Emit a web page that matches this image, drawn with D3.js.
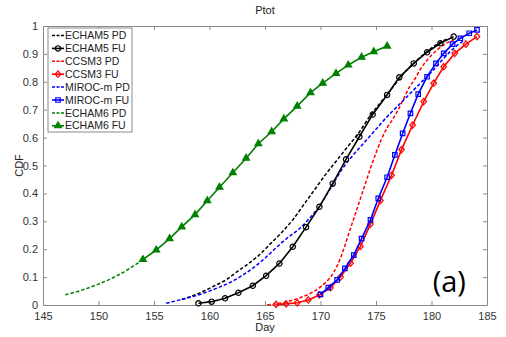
<!DOCTYPE html>
<html>
<head>
<meta charset="utf-8">
<script src="https://cdn.jsdelivr.net/npm/d3@7"></script>
<style>
  body { margin: 0; background: #fff; }
  text { font-family: "Liberation Sans", Arial, sans-serif; }
</style>
</head>
<body>
<div id="my_dataviz"></div>
<script>
// values (day, CDF)
var echam5PdDay = [157.5,158.5,159.5,160.5,161.5,162.5,163.5,164.5,165.5,166.5,167.5,168.5,169.5,170.5,171.5,172.5,173.5,174.5,175.5,176.5,177.5,178.5,179.5,180.5,181.5];
var echam5PdCdf = [0.02,0.033,0.05,0.07,0.09,0.12,0.148,0.18,0.22,0.26,0.305,0.36,0.415,0.47,0.52,0.57,0.62,0.68,0.73,0.78,0.83,0.87,0.905,0.935,0.955];

var echam5FuDay = [159.0,160.2,161.4,162.6,163.9,165.1,166.3,167.5,168.7,169.9,171.1,172.3,173.5,174.7,176.0,177.1,178.4,179.6,180.8,182.0];
var echam5FuCdf = [0.006,0.012,0.024,0.044,0.069,0.105,0.149,0.209,0.279,0.352,0.435,0.522,0.603,0.683,0.753,0.816,0.866,0.906,0.938,0.962];

var ccsm3PdDay = [165.2,166.0,167.0,168.0,169.0,170.0,170.8,171.5,172.0,172.5,173.0,173.5,174.0,174.5,175.0,175.5,176.0,176.5,177.0,177.5,178.0,178.5,179.0,179.5,180.0,180.5,181.2,182.0];
var ccsm3PdCdf = [0.0,0.004,0.012,0.024,0.040,0.065,0.095,0.14,0.19,0.25,0.31,0.37,0.43,0.49,0.545,0.595,0.635,0.665,0.70,0.74,0.78,0.81,0.845,0.873,0.895,0.914,0.935,0.95];

var ccsm3FuDay = [166.0,166.9,167.9,168.9,169.9,170.9,171.8,172.7,173.6,174.5,175.4,176.4,177.3,178.3,179.3,180.2,181.1,182.1,183.1,184.1];
var ccsm3FuCdf = [0.002,0.004,0.008,0.018,0.036,0.062,0.10,0.15,0.21,0.29,0.375,0.465,0.557,0.645,0.729,0.795,0.854,0.902,0.935,0.962];

var mirocPdDay = [156.1,157,158,159,160,161,162,163,164,165,166,167,168,169,170,171,172,173,174,175,176,177,178,179,180,181,182,183];
var mirocPdCdf = [0.006,0.015,0.025,0.036,0.05,0.066,0.084,0.107,0.135,0.168,0.205,0.24,0.27,0.31,0.36,0.425,0.49,0.54,0.585,0.63,0.675,0.715,0.755,0.795,0.835,0.88,0.92,0.95];

var mirocFuDay = [170.0,170.7,171.5,172.2,173.0,173.7,174.5,175.2,176.0,176.7,177.4,178.1,178.8,179.6,180.4,181.1,181.9,182.6,183.4,184.1];
var mirocFuCdf = [0.038,0.062,0.09,0.131,0.179,0.238,0.305,0.382,0.458,0.538,0.615,0.687,0.756,0.818,0.866,0.902,0.935,0.956,0.974,0.986];

var echam6PdDay = [147,148,149,150,151,152,153,154];
var echam6PdCdf = [0.037,0.047,0.06,0.075,0.092,0.112,0.136,0.163];

var echam6FuDay = [154.0,155.2,156.4,157.5,158.7,159.8,160.9,162.1,163.3,164.4,165.6,166.7,167.9,169.1,170.2,171.4,172.5,173.7,174.8,176.0];
var echam6FuCdf = [0.163,0.197,0.238,0.280,0.324,0.374,0.422,0.474,0.526,0.578,0.621,0.667,0.713,0.761,0.795,0.830,0.860,0.888,0.908,0.928];

var xTicks = [145,150,155,160,165,170,175,180,185];
var yTicks = [0,0.1,0.2,0.3,0.4,0.5,0.6,0.7,0.8,0.9,1];

var series = [
  {name: "ECHAM5 PD", day: echam5PdDay, cdf: echam5PdCdf, color: "#000000", dashed: true},
  {name: "ECHAM5 FU", day: echam5FuDay, cdf: echam5FuCdf, color: "#000000", marker: "circle"},
  {name: "CCSM3 PD", day: ccsm3PdDay, cdf: ccsm3PdCdf, color: "#ff0000", dashed: true},
  {name: "CCSM3 FU", day: ccsm3FuDay, cdf: ccsm3FuCdf, color: "#ff0000", marker: "diamond"},
  {name: "MIROC-m PD", day: mirocPdDay, cdf: mirocPdCdf, color: "#0000ff", dashed: true},
  {name: "MIROC-m FU", day: mirocFuDay, cdf: mirocFuCdf, color: "#0000ff", marker: "square"},
  {name: "ECHAM6 PD", day: echam6PdDay, cdf: echam6PdCdf, color: "#008000", dashed: true},
  {name: "ECHAM6 FU", day: echam6FuDay, cdf: echam6FuCdf, color: "#008000", marker: "triangle"}
];

// set the dimensions and margins of the graph
var margin = {top: 26, right: 19, bottom: 32, left: 43},
    width = 506 - margin.left - margin.right,
    height = 337 - margin.top - margin.bottom;

var svg = d3.select("#my_dataviz")
  .append("svg")
  .attr("width", 506)
  .attr("height", 337)
  .append("g")
  .attr("transform", "translate(" + margin.left + "," + margin.top + ")");

var x = d3.scaleLinear().domain([145, 185]).range([0, width]);
var y = d3.scaleLinear().domain([0, 1]).range([height, 0]);

var axisColor = "#8a8a8a";
var labelColor = "#333";

function styleAxis(g) {
  g.select(".domain").attr("stroke", axisColor);
  g.selectAll(".tick line").attr("stroke", axisColor);
  g.selectAll(".tick text").attr("fill", labelColor).style("font-size", "11px");
}

// bottom and left axes, ticks inward
svg.append("g")
  .attr("transform", "translate(0," + height + ")")
  .call(d3.axisBottom(x).tickValues(xTicks).tickSize(-4).tickSizeOuter(0).tickPadding(7))
  .call(styleAxis);

svg.append("g")
  .call(d3.axisLeft(y).tickValues(yTicks).tickSize(-4).tickSizeOuter(0).tickPadding(5)
    .tickFormat(function(d) { return d3.format("~g")(d); }))
  .call(styleAxis);

// top and right axes, no labels
svg.append("g")
  .call(d3.axisTop(x).tickValues(xTicks).tickSize(-4).tickSizeOuter(0).tickFormat(""))
  .call(styleAxis);

svg.append("g")
  .attr("transform", "translate(" + width + ",0)")
  .call(d3.axisRight(y).tickValues(yTicks).tickSize(-4).tickSizeOuter(0).tickFormat(""))
  .call(styleAxis);

// curves
var smooth = d3.line()
  .x(function(d) { return x(d[0]); })
  .y(function(d) { return y(d[1]); })
  .curve(d3.curveMonotoneX);

var straight = d3.line()
  .x(function(d) { return x(d[0]); })
  .y(function(d) { return y(d[1]); });

function pts(s) {
  return s.day.map(function(d, i) { return [d, s.cdf[i]]; });
}

function markerPath(type) {
  switch (type) {
    case "circle":
      return d3.symbol().type(d3.symbolCircle).size(22)();
    case "diamond":
      return "M0,-3.2L2.8,0L0,3.2L-2.8,0Z";
    case "square":
      return d3.symbol().type(d3.symbolSquare).size(20)();
    case "triangle":
      return d3.symbol().type(d3.symbolTriangle).size(20)();
  }
}

// draw the dashed ones first, then the FU ones on top
var order = [0, 2, 4, 6, 1, 3, 5, 7];
order.forEach(function(k) {
  var s = series[k];
  var data = pts(s);
  if (s.dashed) {
    svg.append("path")
      .datum(data)
      .attr("d", smooth)
      .attr("fill", "none")
      .attr("stroke", s.color)
      .attr("stroke-width", 1.5)
      .attr("stroke-dasharray", "3.5,2");
  } else {
    svg.append("path")
      .datum(data)
      .attr("d", straight)
      .attr("fill", "none")
      .attr("stroke", s.color)
      .attr("stroke-width", 1.6);
    svg.append("g")
      .selectAll("path")
      .data(data)
      .enter()
      .append("path")
      .attr("transform", function(d) { return "translate(" + x(d[0]) + "," + y(d[1]) + ")"; })
      .attr("d", markerPath(s.marker))
      .attr("fill", s.marker == "triangle" ? s.color : "none")
      .attr("stroke", s.color)
      .attr("stroke-width", 1.2);
  }
});

// legend
var legend = svg.append("g").attr("transform", "translate(5,2)");
legend.append("rect")
  .attr("width", 84)
  .attr("height", 104)
  .attr("fill", "#fff")
  .attr("stroke", axisColor);

series.forEach(function(s, i) {
  var row = legend.append("g").attr("transform", "translate(0," + (7.5 + i * 12.9) + ")");
  row.append("line")
    .attr("x1", 4).attr("x2", 16)
    .attr("stroke", s.color)
    .attr("stroke-width", s.dashed ? 1.5 : 1.6)
    .attr("stroke-dasharray", s.dashed ? "3,1.5" : null);
  if (s.marker) {
    row.append("path")
      .attr("transform", "translate(10,0)")
      .attr("d", markerPath(s.marker))
      .attr("fill", s.marker == "triangle" ? s.color : "none")
      .attr("stroke", s.color)
      .attr("stroke-width", 1.2);
  }
  row.append("text")
    .attr("x", 17)
    .attr("dy", "0.35em")
    .attr("fill", "#222")
    .style("font-size", "10.5px")
    .text(s.name);
});

// labels
svg.append("text")
  .attr("x", width / 2)
  .attr("y", -12)
  .attr("text-anchor", "middle")
  .attr("fill", "#222")
  .style("font-size", "11px")
  .text("Ptot");

svg.append("text")
  .attr("x", width / 2)
  .attr("y", height + 26)
  .attr("text-anchor", "middle")
  .attr("fill", "#222")
  .style("font-size", "11px")
  .text("Day");

svg.append("text")
  .attr("transform", "rotate(-90)")
  .attr("x", -height / 2)
  .attr("y", -20)
  .attr("text-anchor", "middle")
  .attr("fill", "#222")
  .style("font-size", "11px")
  .text("CDF");

svg.append("text")
  .attr("x", x(181.6))
  .attr("y", y(0.045))
  .attr("text-anchor", "middle")
  .attr("fill", "#000")
  .style("font-family", "'Open Sans', sans-serif")
  .style("font-size", "29px")
  .text("(a)");
</script>
</body>
</html>
